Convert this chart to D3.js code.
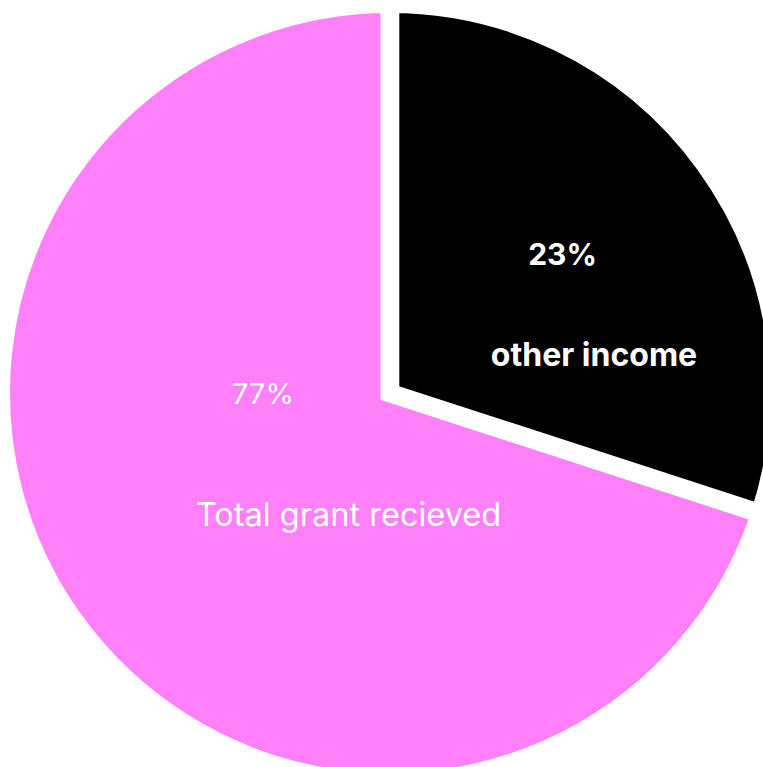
<!DOCTYPE html>
<html>
<head>
<meta charset="utf-8">
<script src="https://cdn.jsdelivr.net/npm/d3@7"></script>
<style>
  html, body { margin: 0; padding: 0; background: #fff; overflow: hidden; }
  svg { display: block; }
</style>
</head>
<body>
<script>
// Data
const categories = ["other income", "Total grant recieved"];
const values = [30, 70];               // slice sizes as drawn
const percentLabels = ["23%", "77%"];  // label text as printed
const colors = ["#000000", "#ff80f8"];

const W = 763, H = 767;
const cx = 390, cy = 393;
const gap = 18.6;             // white separation between slices
const visibleR = 380;

const svg = d3.select("body").append("svg")
  .attr("width", W).attr("height", H);

const pie = d3.pie().sort(null).value(d => d.value);
const arcs = pie(categories.map((c, i) => ({ cat: c, value: values[i], pct: percentLabels[i], color: colors[i] })));

const arc = d3.arc().innerRadius(0).outerRadius(visibleR + gap / 2);

const g = svg.append("g").attr("transform", `translate(${cx},${cy})`);

// draw pink first, then black on top
const order = [1, 0];
g.selectAll("path.slice")
  .data(order.map(i => arcs[i]))
  .join("path")
  .attr("class", "slice")
  .attr("d", arc)
  .attr("fill", d => d.data.color)
  .attr("stroke", "#fff")
  .attr("stroke-width", gap)
  .attr("stroke-linejoin", "miter");

// label layout (offsets from pie centre)
const labelStyle = [
  { weight: 700, pctSize: 30, nameSize: 32, pct: [172.5, -128], name: [204, -27] },
  { weight: 400, pctSize: 29, nameSize: 32.5, pct: [-127, 11], name: [-41.5, 133] }
];

arcs.forEach((a, i) => {
  const s = labelStyle[i];
  g.append("text")
    .attr("x", s.pct[0]).attr("y", s.pct[1])
    .attr("text-anchor", "middle")
    .attr("font-family", "Inter, 'Noto Sans', sans-serif")
    .attr("font-size", s.pctSize)
    .attr("font-weight", s.weight)
    .attr("fill", "#fff")
    .text(a.data.pct);
  g.append("text")
    .attr("x", s.name[0]).attr("y", s.name[1])
    .attr("text-anchor", "middle")
    .attr("font-family", "Inter, 'Noto Sans', sans-serif")
    .attr("font-size", s.nameSize)
    .attr("font-weight", s.weight)
    .attr("fill", "#fff")
    .text(a.data.cat);
});
</script>
</body>
</html>
